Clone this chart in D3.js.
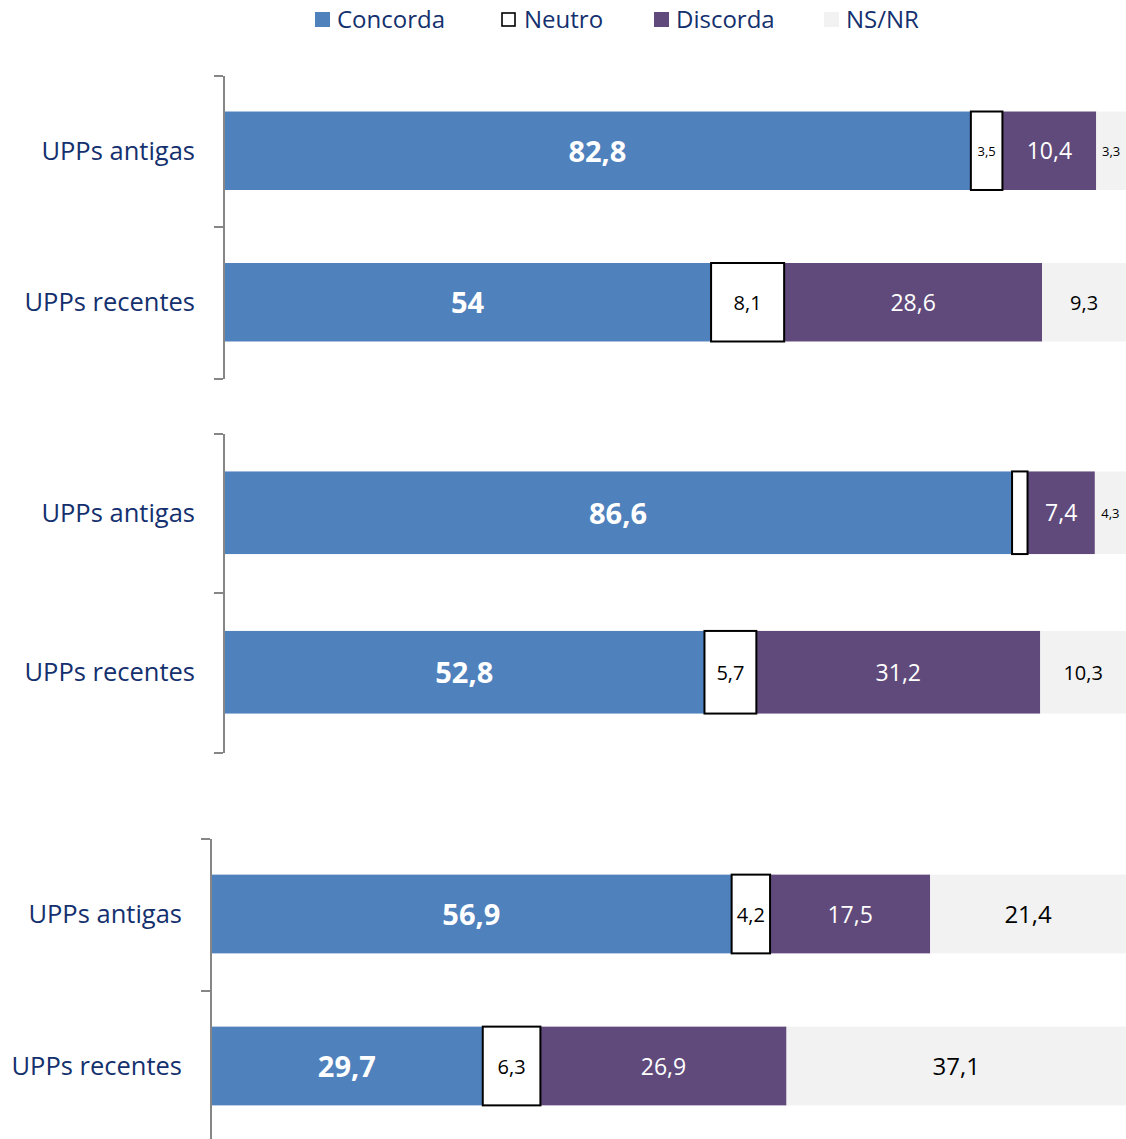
<!DOCTYPE html>
<meta charset="utf-8">
<style type="text/css">
  body { margin: 0; background: #fff; }
  text { font-family: "Open Sans", "Liberation Sans", sans-serif; }
  .cat-label { fill: #14306e; font-size: 25.5px; }
  .legend-label { fill: #14306e; font-size: 24px; }
  .axis path, .axis line { stroke: #868686; stroke-width: 2px; shape-rendering: crispEdges; }
</style>
<body>
<div id="chart"></div>
</body>
<script src="https://d3js.org/d3.v7.min.js"></script>
<script>

var width = 1126,
    height = 1139;

// data
var categories = ["UPPs antigas", "UPPs recentes"];
var seriesNames = ["Concorda", "Neutro", "Discorda", "NS/NR"];
// one inner array per block of bars: [antigas, recentes]
var concorda = [[82.8, 54], [86.6, 52.8], [56.9, 29.7]];
var neutro   = [[3.5, 8.1], [1.7, 5.7], [4.2, 6.3]];
var discorda = [[10.4, 28.6], [7.4, 31.2], [17.5, 26.9]];
var nsnr     = [[3.3, 9.3], [4.3, 10.3], [21.4, 37.1]];

var colors = ["#4f81bd", "#ffffff", "#604a7b", "#f2f2f2"];

// layout of the three blocks (axis x, right end of the scale, top, bottom of category axis)
var blocks = [
  {axisX: 223, xEnd: 1126, top: 75, bottom: 378},
  {axisX: 223, xEnd: 1134, top: 433, bottom: 752},
  {axisX: 210, xEnd: 1126, top: 838, bottom: 1142}
];
var legendX = [315, 501, 654, 824];

var svg = d3.select("#chart").append("svg")
    .attr("width", width)
    .attr("height", height);

// legend
var legend = svg.append("g").attr("class", "legend")
  .selectAll("g")
  .data(seriesNames)
  .enter().append("g")
    .attr("transform", function(d, i) { return "translate(" + legendX[i] + ",12)"; });

legend.append("rect")
    .attr("x", function(d, i) { return i == 1 ? 1 : 0; })
    .attr("y", function(d, i) { return i == 1 ? 1 : 0; })
    .attr("width", function(d, i) { return i == 1 ? 13 : 15; })
    .attr("height", function(d, i) { return i == 1 ? 13 : 15; })
    .attr("fill", function(d, i) { return colors[i]; })
    .attr("stroke", function(d, i) { return i == 1 ? "#000" : "none"; })
    .attr("stroke-width", 1.6);

legend.append("text")
    .attr("class", "legend-label")
    .attr("x", function(d, i) { return i == 1 ? 23 : 22; })
    .attr("y", 8)
    .attr("dy", "0.35em")
    .text(function(d) { return d; });

function fmt(v) { return String(v).replace(".", ","); }

blocks.forEach(function(b, bi) {
  var g = svg.append("g");

  var x = d3.scaleLinear()
      .domain([0, 100])
      .range([b.axisX + 1, b.xEnd]);

  var y = d3.scaleBand()
      .domain(categories)
      .range([b.top, b.bottom])
      .padding(0);

  var barH = y.bandwidth() * 0.518;

  var rows = categories.map(function(c, ci) {
    var vals = [concorda[bi][ci], neutro[bi][ci], discorda[bi][ci], nsnr[bi][ci]];
    var start = 0;
    var segs = vals.map(function(v, si) {
      var s = {series: si, value: v, x0: start, x1: start + v, cat: c};
      start += v;
      return s;
    });
    return {cat: c, segs: segs};
  });

  var row = g.selectAll(".row")
    .data(rows)
    .enter().append("g")
      .attr("class", "row")
      .attr("transform", function(d) {
        return "translate(0," + (y(d.cat) + (y.bandwidth() - barH) / 2) + ")";
      });

  // non-neutral segments first, neutral box on top so its border shows
  row.selectAll("rect")
    .data(function(d) {
      return d.segs.filter(function(s) { return s.series != 1; })
        .concat(d.segs.filter(function(s) { return s.series == 1; }));
    })
    .enter().append("rect")
      .attr("x", function(d) { return x(d.x0); })
      .attr("width", function(d) { return x(d.x1) - x(d.x0); })
      .attr("y", 0)
      .attr("height", barH)
      .attr("fill", function(d) { return colors[d.series]; })
      .attr("stroke", function(d) { return d.series == 1 ? "#000" : "none"; })
      .attr("stroke-width", 2);

  row.selectAll("text")
    .data(function(d) { return d.segs.filter(function(s) { return s.value >= 2; }); })
    .enter().append("text")
      .attr("x", function(d) { return (x(d.x0) + Math.min(x(d.x1), width)) / 2; })
      .attr("y", barH / 2)
      .attr("dy", "0.38em")
      .attr("text-anchor", "middle")
      .attr("fill", function(d) { return (d.series == 0 || d.series == 2) ? "#fff" : "#000"; })
      .attr("font-weight", function(d) { return d.series == 0 ? "bold" : "normal"; })
      .attr("font-size", function(d) {
        if (d.series == 0) return "29px";
        if (d.series == 2) return "23px";
        var w = x(d.x1) - x(d.x0);
        if (w > 150) return "24px";
        if (w > (d.series == 1 ? 36 : 45)) return "20px";
        return "13px";
      })
      .text(function(d) { return fmt(d.value); });

  // category axis with ticks between categories
  var tickScale = d3.scaleLinear().domain([0, 2]).range([b.top, b.bottom]);
  g.append("g")
      .attr("class", "axis")
      .attr("transform", "translate(" + b.axisX + ",0)")
      .call(d3.axisLeft(tickScale).tickValues([0, 1, 2]).tickSize(9).tickSizeOuter(0).tickFormat(""));

  g.selectAll(".cat-label")
    .data(categories)
    .enter().append("text")
      .attr("class", "cat-label")
      .attr("x", b.axisX - 28)
      .attr("y", function(d) { return y(d) + y.bandwidth() / 2; })
      .attr("dy", "0.35em")
      .attr("text-anchor", "end")
      .text(function(d) { return d; });
});

</script>
